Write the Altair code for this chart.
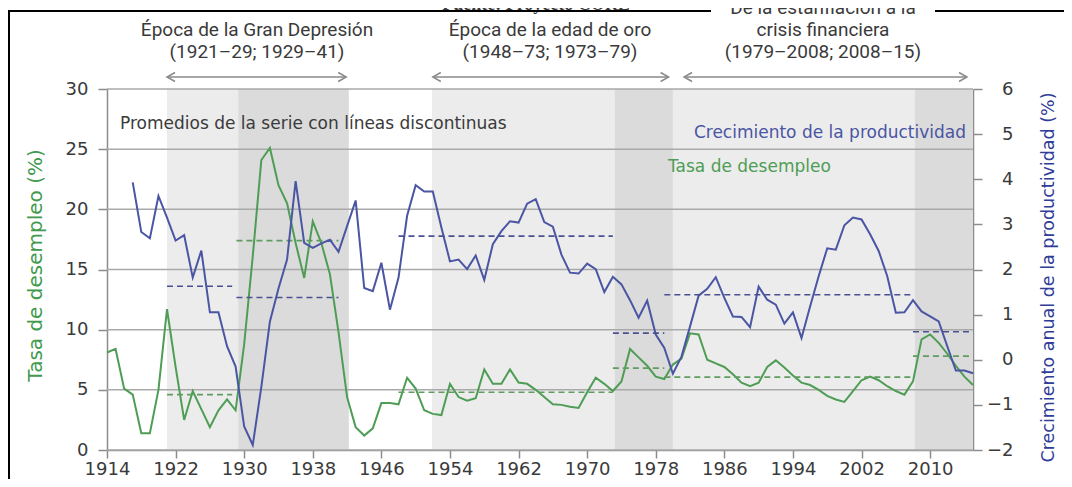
import altair as alt
import pandas as pd

# ---------------- data ----------------
years_u = list(range(1914, 2016))
unemployment = [
    8.1, 8.4, 5.1, 4.6, 1.4, 1.4, 5.0, 11.7, 6.9, 2.5,      # 1914-1923
    4.9, 3.4, 1.9, 3.3, 4.2, 3.3, 8.8, 16.1, 24.1, 25.1,    # 1924-1933
    22.0, 20.5, 17.2, 14.3, 19.0, 17.2, 14.6, 9.8, 4.4, 1.9,  # 1934-1943
    1.2, 1.8, 3.9, 3.9, 3.8, 6.0, 5.1, 3.3, 3.0, 2.9,       # 1944-1953
    5.5, 4.4, 4.1, 4.3, 6.7, 5.5, 5.5, 6.7, 5.6, 5.5,       # 1954-1963
    5.0, 4.4, 3.8, 3.75, 3.6, 3.5, 4.8, 6.0, 5.5, 4.9,      # 1964-1973
    5.7, 8.4, 7.7, 7.0, 6.1, 5.9, 7.1, 7.6, 9.7, 9.6,       # 1974-1983
    7.5, 7.2, 6.9, 6.3, 5.6, 5.3, 5.6, 6.9, 7.45, 6.85,     # 1984-1993
    6.2, 5.6, 5.4, 5.0, 4.5, 4.2, 4.0, 4.9, 5.8, 6.1,       # 1994-2003
    5.8, 5.3, 4.9, 4.6, 5.7, 9.2, 9.6, 8.9, 8.0, 7.0,       # 2004-2013
    6.1, 5.4,                                               # 2014-2015
]

years_p = list(range(1917, 2016))
productivity = [
    3.93, 2.83, 2.69, 3.63, 3.15, 2.64, 2.76,               # 1917-1923
    1.82, 2.42, 1.05, 1.05, 0.30, -0.15, -1.48, -1.89, -0.6, 0.85,  # 1924-1933
    1.58, 2.22, 3.96, 2.59, 2.48, 2.58, 2.66, 2.39, 2.96, 3.53,     # 1934-1943
    1.59, 1.52, 2.15, 1.11, 1.82, 3.19, 3.87, 3.73, 3.73, 2.93,     # 1944-1953
    2.18, 2.22, 2.01, 2.31, 1.77, 2.56, 2.85, 3.07, 3.04, 3.46,     # 1954-1963
    3.56, 3.05, 2.95, 2.33, 1.93, 1.91, 2.13, 2.01, 1.50, 1.84,     # 1964-1973
    1.67, 1.32, 0.93, 1.31, 0.56, 0.26, -0.31, 0.07, 0.74, 1.42,    # 1974-1983
    1.57, 1.83, 1.37, 0.96, 0.95, 0.72, 1.62, 1.33, 1.22, 0.80,     # 1984-1993
    1.05, 0.48, 1.18, 1.85, 2.47, 2.44, 2.98, 3.15, 3.11, 2.78,     # 1994-2003
    2.41, 1.85, 1.04, 1.05, 1.32, 1.07, 0.96, 0.85, 0.30, -0.24,    # 2004-2013
    -0.24, -0.30,                                                   # 2014-2015
]

# period averages (dashed lines)
period_start = [1921, 1929.1, 1948, 1973, 1979, 2008]
period_end = [1928.6, 1941, 1973, 1979, 2008, 2015]
avg_unemployment = [4.6, 17.4, 4.8, 6.8, 6.06, 7.8]
avg_productivity = [1.63, 1.38, 2.74, 0.59, 1.44, 0.62]

# shaded eras
band_start = [1921, 1929.3, 1951.9, 1973.2, 1980.0, 2008.2]
band_end = [1929.3, 1942.2, 1973.2, 1980.0, 2008.2, 2015]
band_tone = ["claro", "oscuro", "claro", "oscuro", "claro", "oscuro"]

# era arrows
arrow_start = [1921, 1952, 1981.3]
arrow_end = [1941.9, 1979.5, 2014.3]

x_ticks = [1914, 1922, 1930, 1938, 1946, 1954, 1962, 1970, 1978, 1986, 1994, 2002, 2010]
u_ticks = [0, 5, 10, 15, 20, 25, 30]
p_ticks = [-2, -1, 0, 1, 2, 3, 4, 5, 6]

# ---------------- styling ----------------
GREEN = "#4f9d55"
BLUE = "#4a55a3"
GREEN_T = "#3f9a4d"
BLUE_T = "#2f3c98"
GRID = "#a9a9a9"
AXIS = "#8c8c8c"
TXT = "#3a3a3a"
FONT = "DejaVu Sans"
HFONT = "Liberation Sans Narrow, Roboto, DejaVu Sans"

W, H = 866, 361

xscale = alt.Scale(domain=[1914, 2015], nice=False, zero=False)
xaxis = alt.Axis(values=x_ticks, format="d", grid=False, title=None,
                 labelFont=FONT, labelFontSize=18, labelColor=TXT,
                 labelPadding=2, tickSize=8, tickColor=AXIS, domainColor=AXIS,
                 domainWidth=1.5, tickWidth=1.5, labelFlush=False)

uscale = alt.Scale(domain=[0, 30], nice=False, zero=False)
pscale = alt.Scale(domain=[-2, 6], nice=False, zero=False)

uaxis = alt.Axis(orient="left", values=u_ticks, grid=False,
                 title="Tasa de desempleo (%)", titleColor=GREEN_T, titleFont=FONT,
                 titleFontSize=20, titleFontWeight="normal", titleAngle=270,
                 titleX=-72, titleY=176, titleAlign="center", titleBaseline="middle",
                 labelFont=FONT, labelFontSize=18, labelColor=TXT, labelPadding=10,
                 tickSize=9, tickColor=AXIS, domainColor=AXIS, domainWidth=1.5,
                 tickWidth=1.5, labelFlush=False)
paxis = alt.Axis(orient="right", values=p_ticks, grid=False,
                 title="Crecimiento anual de la productividad (%)", titleColor=BLUE_T,
                 titleFont=FONT, titleFontSize=17.5, titleFontWeight="normal",
                 titleAngle=270, titleX=75, titleY=3, titleAlign="right",
                 titleBaseline="middle",
                 labelFont=FONT, labelFontSize=18, labelColor=TXT, labelPadding=31,
                 labelAlign="right", tickSize=9, tickColor=AXIS, domainColor=AXIS,
                 domainWidth=1.5, tickWidth=1.5, labelFlush=False)


def X(field):
    return alt.X(field, type="quantitative", scale=xscale, axis=xaxis)


df_u = pd.DataFrame({"year": years_u, "u": unemployment})
df_p = pd.DataFrame({"year": years_p, "p": productivity})
df_avg = pd.DataFrame({"s": period_start, "e": period_end,
                       "au": avg_unemployment, "ap": avg_productivity})
df_band = pd.DataFrame({"s": band_start, "e": band_end, "tone": band_tone})
df_grid = pd.DataFrame({"g": u_ticks})
df_arrow = pd.DataFrame({"s": arrow_start, "e": arrow_end})
one = pd.DataFrame({"k": [0]})

bands = alt.Chart(df_band).mark_rect().encode(
    x=X("s"), x2="e",
    color=alt.Color("tone:N", legend=None,
                    scale=alt.Scale(domain=["claro", "oscuro"],
                                    range=["#ececec", "#dbdbdb"])),
)

grid = alt.Chart(df_grid).mark_rule(color=GRID, strokeWidth=1.5).encode(
    y=alt.Y("g:Q", scale=uscale, axis=uaxis),
)
u_line = alt.Chart(df_u).mark_line(color=GREEN, strokeWidth=2).encode(
    x=X("year"), y=alt.Y("u:Q", scale=uscale, axis=uaxis),
)
u_avg = alt.Chart(df_avg).mark_rule(color="#5f9c60", strokeWidth=1.6,
                                    strokeDash=[6, 4]).encode(
    x=X("s"), x2="e", y=alt.Y("au:Q", scale=uscale, axis=uaxis),
)
left = alt.layer(grid, u_line, u_avg)

p_line = alt.Chart(df_p).mark_line(color=BLUE, strokeWidth=2).encode(
    x=X("year"), y=alt.Y("p:Q", scale=pscale, axis=paxis),
)
p_avg = alt.Chart(df_avg).mark_rule(color="#4b5092", strokeWidth=1.6,
                                    strokeDash=[6, 4]).encode(
    x=X("s"), x2="e", y=alt.Y("ap:Q", scale=pscale, axis=paxis),
)
right = alt.layer(p_line, p_avg)

# arrows above the eras
ARROW = "#8a8a8a"
arrows = alt.Chart(df_arrow).mark_rule(color=ARROW, strokeWidth=1.5).encode(
    x=X("s"), x2="e", y=alt.value(-12),
)
head_l = alt.Chart(df_arrow).mark_point(shape="M1.6,-0.9L0,0L1.6,0.9", filled=False,
                                        size=100, color=ARROW, strokeWidth=1.5,
                                        opacity=1).encode(
    x=X("s"), y=alt.value(-12),
)
head_r = alt.Chart(df_arrow).mark_point(shape="M-1.6,-0.9L0,0L-1.6,0.9", filled=False,
                                        size=100, color=ARROW, strokeWidth=1.5,
                                        opacity=1).encode(
    x=X("e"), y=alt.value(-12),
)


def label(text, x, y, font=FONT, size=17, color=TXT, align="center",
          weight="normal", baseline="middle"):
    return alt.Chart(one).mark_text(
        text=text, font=font, fontSize=size, color=color, align=align,
        fontWeight=weight, baseline=baseline,
    ).encode(x=alt.value(x), y=alt.value(y))


texts = [
    label("Época de la Gran Depresión", 150, -59, font=HFONT, size=19),
    label("(1921–29; 1929–41)", 150, -37, font=HFONT, size=19),
    label("Época de la edad de oro", 443, -59, font=HFONT, size=19),
    label("(1948–73; 1973–79)", 443, -37, font=HFONT, size=19),
    label("De la estanflación a la", 716, -81, font=HFONT, size=19),
    label("crisis financiera", 716, -59, font=HFONT, size=19),
    label("(1979–2008; 2008–15)", 716, -37, font=HFONT, size=19),
    label("Promedios de la serie con líneas discontinuas", 13, 35, align="left"),
    label("Crecimiento de la productividad", 859, 44, color=BLUE, align="right"),
    label("Tasa de desempleo", 561, 78, color=GREEN, align="left"),
    label("Fuente: Proyecto CORE", 429, -79, font="Liberation Serif", size=18,
          weight="bold", baseline="alphabetic"),
]

# outer frame of the figure
frame = [
    alt.Chart(one).mark_rule(color="black", strokeWidth=2).encode(
        x=alt.value(-99), x2=alt.value(604), y=alt.value(-78)),
    alt.Chart(one).mark_rule(color="black", strokeWidth=2).encode(
        x=alt.value(828), x2=alt.value(957), y=alt.value(-78)),
    alt.Chart(one).mark_rule(color="black", strokeWidth=2).encode(
        x=alt.value(-98), y=alt.value(-78), y2=alt.value(H + 30)),
]

chart = alt.layer(
    bands, left, right, arrows, head_l, head_r, *texts, *frame
).resolve_scale(y="independent").properties(
    width=W, height=H,
    autosize=alt.AutoSizeParams(type="none"),
    padding={"left": 99, "top": 81, "right": 91, "bottom": 29},
    background="white",
).configure_view(strokeWidth=0)

chart.save("out.html", embed_options={"renderer": "svg", "actions": False})
